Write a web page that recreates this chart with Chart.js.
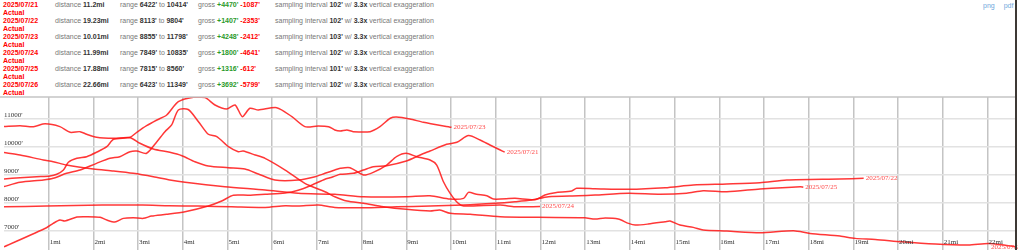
<!DOCTYPE html>
<html>
<head>
<meta charset="utf-8">
<script src="https://cdn.jsdelivr.net/npm/chart.js@4.4.0/dist/chart.umd.min.js"></script>
<style>
  html, body { margin: 0; padding: 0; background: #fff; width: 1018px; height: 250px; overflow: hidden; }
  #hdr { position: absolute; left: 0; top: 0; width: 1018px; height: 97px;
         font-family: "Liberation Sans", Arial, sans-serif; font-size: 7px; color: #777; }
  .row { position: relative; height: 16px; }
  .c { position: absolute; top: 1px; line-height: 8px; white-space: nowrap; }
  .c b { color: #333; }
  .date { left: 3px; color: #f00; font-weight: bold; }
  .actual { left: 3px; top: 9px; color: #f00; font-weight: bold; }
  .dist { left: 55px; }
  .rng { left: 120px; }
  .gross { left: 198px; }
  .samp { left: 275px; }
  b.up { color: #2a9a2a; }
  b.down { color: #f00; }
  #links { position: absolute; left: 983px; top: 2px; font-family: "Liberation Sans", Arial, sans-serif;
           font-size: 7px; line-height: 8px; color: #6fa8dc; }
  #links span { margin-right: 9px; }
  #wrap { position: absolute; left: 0; top: 96px; width: 1018px; height: 154px; }
  #edge { position: absolute; left: 1015px; top: 0; width: 2px; height: 250px; background: #3d3935; }
</style>
</head>
<body>
<div id="hdr"></div>
<div id="links"><span>png</span>pdf</div>
<div id="wrap"><canvas id="profile" width="1018" height="154"></canvas></div>
<div id="edge"></div>
<script>
// header table
const dates = ['2025/07/21', '2025/07/22', '2025/07/23', '2025/07/24', '2025/07/25', '2025/07/26'];
const distances = ['11.2', '19.23', '10.01', '11.99', '17.88', '22.66'];
const rangeLow = [6422, 8113, 8855, 7849, 7815, 6423];
const rangeHigh = [10414, 9804, 11798, 10835, 8560, 11349];
const grossUp = [4470, 1407, 4248, 1800, 1316, 3692];
const grossDown = [1087, 2353, 2412, 4641, 612, 5799];
const intervals = [102, 102, 103, 102, 101, 102];

// profiles: miles / feet
const mi21 = [0, 0.95, 1.1, 1.25, 1.36, 1.63, 1.85, 2.15, 2.3, 2.48, 2.67, 2.89, 3.12, 3.3, 3.64, 4.05, 4.57, 4.87, 5.13, 5.47, 5.84, 6.29, 6.58, 6.88, 7.18, 7.29, 7.4, 7.52, 7.81, 8.04, 8.26, 8.56, 9.0, 9.31, 9.53, 9.9, 10.13, 10.39, 10.65, 10.87, 11.1, 11.2];
const ft21 = [6422, 7108, 7265, 7384, 7348, 7492, 7503, 7481, 7384, 7312, 7445, 7467, 7445, 7528, 7589, 7682, 7887, 8067, 8274, 8274, 8310, 8357, 8454, 8634, 8849, 8900, 8960, 9024, 9060, 9179, 9298, 9334, 9502, 9718, 9861, 10101, 10173, 10414, 10256, 10077, 9897, 9820];

const mi22 = [0, 0.36, 0.88, 1.1, 1.4, 2.0, 2.45, 2.89, 3.34, 3.71, 4.05, 4.94, 5.84, 6.58, 7.4, 8.04, 9.0, 9.53, 9.98, 10.28, 10.39, 10.57, 10.8, 10.95, 11.43, 11.88, 12.1, 12.33, 12.7, 12.81, 13.22, 13.97, 14.79, 15.42, 16.17, 16.91, 17.51, 18.7, 19.23];
const ft22 = [9804, 9718, 9538, 9477, 9358, 9215, 9143, 9060, 8939, 8820, 8737, 8580, 8461, 8342, 8307, 8221, 8221, 8257, 8138, 8163, 8378, 8307, 8257, 8138, 8163, 8113, 8282, 8364, 8425, 8522, 8508, 8486, 8544, 8640, 8676, 8723, 8820, 8856, 8881];

const mi23 = [0, 0.36, 0.73, 1.03, 1.18, 1.33, 1.44, 1.63, 1.85, 2.07, 2.3, 2.45, 2.82, 2.97, 3.19, 3.42, 3.64, 3.9, 4.27, 4.5, 4.72, 4.98, 5.17, 5.33, 5.5, 5.69, 6.1, 6.44, 6.73, 7.03, 7.26, 7.4, 7.52, 7.67, 7.81, 8.19, 8.41, 8.64, 8.78, 9.08, 9.38, 10.01];
const ft23 = [8855, 8903, 8939, 8964, 9025, 9179, 9456, 9599, 9657, 9815, 10016, 10281, 10353, 10532, 10770, 10974, 11154, 11631, 11798, 11775, 11512, 11368, 11512, 11093, 11393, 11332, 11416, 11093, 10734, 10758, 10734, 10615, 10579, 10615, 10555, 10555, 10734, 11035, 11082, 11010, 10891, 10712];

const mi24 = [0, 0.36, 0.66, 0.92, 1.25, 1.48, 1.7, 1.85, 2.07, 2.45, 2.82, 3.04, 3.34, 3.71, 3.98, 4.27, 4.57, 5.02, 5.39, 5.69, 6.06, 6.58, 6.96, 7.18, 7.4, 7.52, 7.74, 8.04, 8.26, 8.56, 8.78, 9.0, 9.23, 9.53, 9.68, 9.83, 9.98, 10.16, 10.28, 11.1, 11.43, 11.99];
const ft24 = [10741, 10770, 10734, 10835, 10734, 10532, 10555, 10460, 10353, 10317, 10339, 10138, 9933, 9815, 9693, 9477, 9323, 9262, 9215, 9036, 8820, 8820, 8940, 9060, 9179, 9240, 9262, 9000, 9096, 9358, 9657, 9778, 9657, 9538, 9358, 8760, 8343, 7984, 7887, 7923, 7860, 7870];

const mi25 = [0, 0.95, 2.2, 3.1, 3.7, 4.35, 5.09, 5.84, 6.29, 6.58, 7.03, 7.4, 8.04, 8.79, 9.53, 10.28, 10.98, 11.43, 11.8, 12.18, 12.85, 13.22, 13.97, 14.68, 15.27, 15.64, 16.17, 16.91, 17.81, 17.88];
const ft25 = [7862, 7886, 7922, 7922, 7898, 7886, 7862, 7838, 7898, 7886, 7922, 7838, 7825, 7862, 7886, 7922, 7984, 8041, 8102, 8221, 8257, 8282, 8343, 8307, 8343, 8436, 8400, 8497, 8580, 8560];

const mi26 = [0, 0.36, 0.88, 1.1, 1.4, 1.7, 2.07, 2.37, 2.59, 2.82, 2.97, 3.19, 3.42, 3.6, 3.75, 3.9, 4.12, 4.35, 4.57, 4.76, 5.02, 5.24, 5.35, 5.62, 5.84, 6.29, 6.73, 7.18, 7.4, 7.67, 8.04, 8.49, 9.0, 9.53, 9.75, 9.98, 10.43, 11.1, 11.95, 12.99, 13.22, 13.45, 13.74, 13.97, 14.12, 14.41, 14.79, 14.9, 15.12, 15.42, 15.64, 16.17, 16.91, 17.66, 18.03, 18.7, 19.04, 19.49, 20.08, 20.83, 21.57, 22.02, 22.4, 22.66];
const ft26 = [8583, 8737, 8820, 8881, 9060, 9179, 9419, 9599, 9657, 9836, 9861, 9779, 10195, 10555, 10795, 11333, 11349, 10913, 10461, 10375, 10016, 9836, 9861, 9718, 9599, 9179, 8701, 8400, 8221, 8066, 7984, 7862, 7768, 7707, 7743, 7625, 7589, 7503, 7481, 7467, 7420, 7456, 7420, 7265, 7205, 7241, 7323, 7348, 7205, 7122, 7025, 6989, 6928, 7000, 6906, 6810, 6727, 6691, 6605, 6523, 6487, 6547, 6480, 6423];

const xTicks = [1, 2, 3, 4, 5, 6, 7, 8, 9, 10, 11, 12, 13, 14, 15, 16, 17, 18, 19, 20, 21, 22];
const xTickLabels = xTicks.map(v => v + 'mi');
const yTicks = [7000, 8000, 9000, 10000, 11000];
const yTickLabels = ["7000'", "8000'", "9000'", "10000'", "11000'"];
const xMax = 22.66;
const yMin = 6310;
const yMax = 11798;

// header
const hdr = document.getElementById('hdr');
dates.forEach((d, i) => {
  const row = document.createElement('div');
  row.className = 'row';
  row.innerHTML =
    `<span class="c date">${d}</span>` +
    `<span class="c actual">Actual</span>` +
    `<span class="c dist">distance <b>${distances[i]}mi</b></span>` +
    `<span class="c rng">range <b>${rangeLow[i]}'</b> to <b>${rangeHigh[i]}'</b></span>` +
    `<span class="c gross">gross <b class="up">+${grossUp[i]}'</b> <b class="down">-${grossDown[i]}'</b></span>` +
    `<span class="c samp">sampling interval <b>${intervals[i]}'</b> w/ <b>3.3x</b> vertical exaggeration</span>`;
  hdr.appendChild(row);
});

const profiles = [[mi21, ft21], [mi22, ft22], [mi23, ft23], [mi24, ft24], [mi25, ft25], [mi26, ft26]];
const datasets = profiles.map(([mi, ft], i) => ({
  label: dates[i],
  data: mi.map((m, k) => ({ x: m, y: ft[k] })),
  borderColor: 'rgba(255, 20, 20, 0.85)',
  borderWidth: 1.5,
  pointRadius: 0,
  tension: 0.25,
  fill: false
}));

const labelPlugin = {
  id: 'labels',
  afterDatasetsDraw(chart) {
    const { ctx, chartArea, scales } = chart;
    ctx.save();
    ctx.font = '7px "Liberation Serif", "Times New Roman", serif';
    // top border
    ctx.strokeStyle = '#c4c4c4';
    ctx.lineWidth = 1.5;
    ctx.beginPath();
    ctx.moveTo(chartArea.left - 4, chartArea.top);
    ctx.lineTo(chartArea.right, chartArea.top);
    ctx.stroke();
    // axis labels
    ctx.fillStyle = '#333';
    ctx.textBaseline = 'middle';
    ctx.textAlign = 'left';
    yTicks.forEach((v, i) => {
      ctx.fillText(yTickLabels[i], chartArea.left, scales.y.getPixelForValue(v) - 4);
    });
    xTicks.forEach((v, i) => {
      ctx.fillText(xTickLabels[i], scales.x.getPixelForValue(v) + 1, chartArea.bottom - 8);
    });
    // end labels
    ctx.fillStyle = '#ff4a4a';
    chart.data.datasets.forEach((ds, i) => {
      const pts = chart.getDatasetMeta(i).data;
      const last = pts[pts.length - 1];
      const w = ctx.measureText(ds.label).width;
      let tx = last.x + 2;
      if (tx + w > chart.width) tx = chart.width - w + 5;
      ctx.fillText(ds.label, tx, last.y);
    });
    ctx.restore();
  }
};

new Chart(document.getElementById('profile'), {
  type: 'line',
  data: { datasets },
  options: {
    responsive: false,
    animation: false,
    layout: { padding: { left: 4, right: 1, top: 1, bottom: 0 } },
    plugins: { legend: { display: false }, tooltip: { enabled: false } },
    scales: {
      x: {
        type: 'linear', min: 0, max: xMax,
        ticks: { display: false },
        grid: { color: '#c4c4c4', lineWidth: 1.5, drawTicks: false },
        border: { display: false },
        afterBuildTicks: s => { s.ticks = xTicks.map(v => ({ value: v })); }
      },
      y: {
        type: 'linear', min: yMin, max: yMax,
        ticks: { display: false },
        grid: { color: '#e2e2e2', lineWidth: 1.5, drawTicks: false },
        border: { display: false },
        afterBuildTicks: s => { s.ticks = yTicks.map(v => ({ value: v })); }
      }
    }
  },
  plugins: [labelPlugin]
});
</script>
</body>
</html>
